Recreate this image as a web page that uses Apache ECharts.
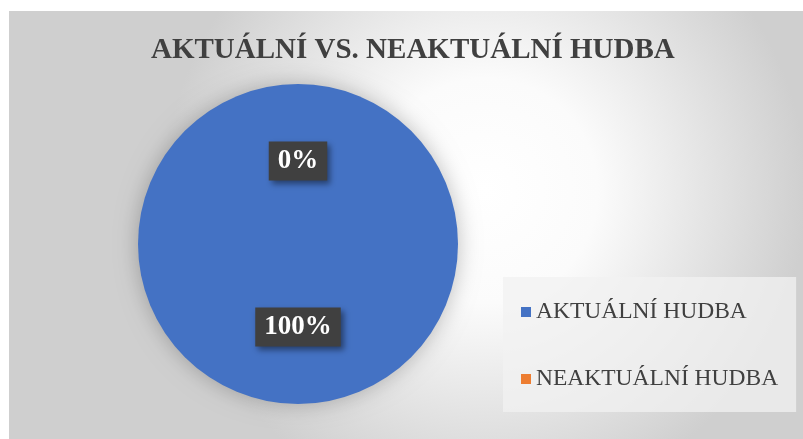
<!DOCTYPE html>
<html>
<head>
<meta charset="utf-8">
<script src="https://cdn.jsdelivr.net/npm/echarts@6/dist/echarts.min.js"></script>
<style>
  html, body { margin: 0; padding: 0; background: #fff; }
  #chart { width: 803px; height: 439px; }
</style>
</head>
<body>
<div id="chart"></div>
<script>
// data
const categories = ['AKTUÁLNÍ HUDBA', 'NEAKTUÁLNÍ HUDBA'];
const values = [100, 0];
const colors = ['#4472C4', '#ED7D31'];

const serif = '"Liberation Serif", "DejaVu Serif", serif';

const chart = echarts.init(document.getElementById('chart'));

const option = {
  backgroundColor: '#fff',
  graphic: [
    {
      // chart area background (light radial gradient)
      type: 'rect',
      z: -10,
      shape: { x: 9, y: 11, width: 794, height: 428 },
      style: {
        fill: new echarts.graphic.RadialGradient(0.6, 0.42, 0.75, [
          { offset: 0, color: '#ffffff' },
          { offset: 0.35, color: '#fbfbfb' },
          { offset: 1, color: '#cfcfcf' }
        ])
      }
    }
  ],
  title: {
    text: 'AKTUÁLNÍ VS. NEAKTUÁLNÍ HUDBA',
    left: 146,
    top: 31,
    textStyle: {
      fontFamily: serif,
      fontWeight: 'bold',
      fontSize: 29,
      color: '#404040'
    }
  },
  legend: {
    orient: 'vertical',
    left: 503,
    top: 277,
    padding: [23, 18, 21, 18],
    backgroundColor: 'rgba(242,242,242,0.75)',
    itemWidth: 10,
    itemHeight: 10,
    itemGap: 43,
    icon: 'rect',
    data: categories,
    textStyle: {
      fontFamily: serif,
      fontSize: 23.5,
      color: '#404040'
    }
  },
  series: [
    {
      type: 'pie',
      center: [298, 244],
      radius: 160,
      startAngle: 90,
      clockwise: true,
      minShowLabelAngle: -1,
      color: colors,
      itemStyle: {
        shadowBlur: 22,
        shadowColor: 'rgba(0,0,0,0.25)'
      },
      label: {
        show: true,
        position: 'inside',
        formatter: '{d}%',
        fontFamily: serif,
        fontWeight: 'bold',
        fontSize: 27,
        color: '#fff',
        backgroundColor: '#404040',
        padding: [7, 9, 5, 9],
        shadowBlur: 6,
        shadowOffsetX: 3,
        shadowOffsetY: 3,
        shadowColor: 'rgba(0,0,0,0.45)'
      },
      labelLine: { show: false },
      emphasis: { disabled: true },
      data: categories.map((name, i) => ({ name: name, value: values[i] }))
    }
  ]
};

chart.setOption(option);
</script>
</body>
</html>
